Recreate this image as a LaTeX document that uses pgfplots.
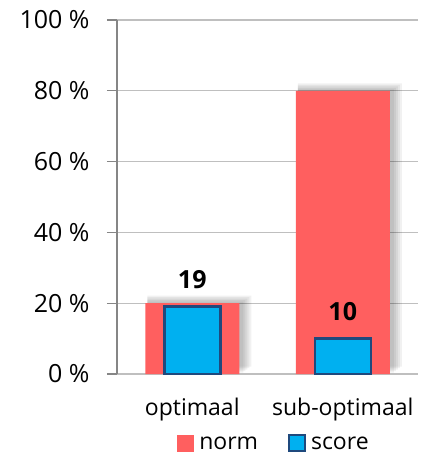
\documentclass[border=0pt]{standalone}
\usepackage{pgfplots}
\pgfplotsset{compat=1.18}
\usepackage{fontspec}
\setmainfont{Open Sans}
\definecolor{normred}{RGB}{255,95,95}
\definecolor{scoreblue}{RGB}{0,176,240}
\definecolor{scoreedge}{RGB}{31,73,125}
\definecolor{axgray}{RGB}{134,134,134}
\definecolor{gridgray}{RGB}{191,191,191}
\newcommand{\lbl}{\fontsize{23}{27}\selectfont}
\newcommand{\lblbig}{\fontsize{25}{29}\selectfont}
\begin{document}
\begin{tikzpicture}
\begin{axis}[
    scale only axis,
    width=301pt, height=354pt,
    xmin=-0.5, xmax=1.5,
    ymin=0, ymax=100,
    xtick={0,1},
    xticklabels={optimaal,sub-optimaal},
    ytick={0,20,...,100},
    yticklabel={\pgfmathprintnumber{\tick}~\%},
    /pgf/number format/assume math mode=true,
    xticklabel style={font=\lbl, yshift=-10pt},
    yticklabel style={font=\lblbig, xshift=-14pt},
    axis x line*=bottom, axis y line*=left,
    x axis line style={draw=gridgray, line width=1.2pt},
    y axis line style={draw=axgray, line width=1.2pt},
    ymajorgrids,
    major grid style={draw=gridgray, line width=1.2pt},
    xtick style={draw=none},
    ytick style={draw=axgray, line width=1.2pt},
    tick align=outside,
    major tick length=10pt,
    legend style={draw=none, at={(0.5216,-0.197)}, anchor=center,
        legend columns=2, font=\lbl,
        /tikz/every odd column/.append style={column sep=3pt},
        /tikz/every even column/.append style={column sep=28pt}},
    shadow/.style={ybar, fill=black, fill opacity=0.055,
        draw=none, forget plot},
]
% soft shadow behind the norm bars, falling to the right
\addplot[shadow, bar width=96pt, bar shift=3pt, yshift=1.5pt] coordinates {(0,20) (1,80)};
\addplot[shadow, bar width=98pt, bar shift=4pt, yshift=3pt] coordinates {(0,20) (1,80)};
\addplot[shadow, bar width=100pt, bar shift=5pt, yshift=4.5pt] coordinates {(0,20) (1,80)};
\addplot[shadow, bar width=102pt, bar shift=6pt, yshift=6pt] coordinates {(0,20) (1,80)};
\addplot[shadow, bar width=104pt, bar shift=7pt, yshift=7.5pt] coordinates {(0,20) (1,80)};
\addplot[ybar, bar width=94pt, bar shift=0pt, fill=normred, draw=none,
    legend image code/.code={\fill[normred] (0pt,-8pt) rectangle (17pt,9pt);}]
    coordinates {(0,20) (1,80)};
\addlegendentry{norm}
\addplot[ybar, bar width=56pt, bar shift=0pt, fill=scoreblue, draw=scoreedge,
    line width=2.5pt,
    nodes near coords,
    nodes near coords style={font=\bfseries\lblbig, text=black, anchor=south, yshift=13pt},
    legend image code/.code={\draw[fill=scoreblue, draw=scoreedge, line width=2pt] (1pt,-7pt) rectangle (17pt,9pt);}]
    coordinates {(0,19) (1,10)};
\addlegendentry{score}
\end{axis}
\pgfresetboundingbox
\path (-117pt,-80pt) rectangle (311pt,374pt);
\end{tikzpicture}
\end{document}
